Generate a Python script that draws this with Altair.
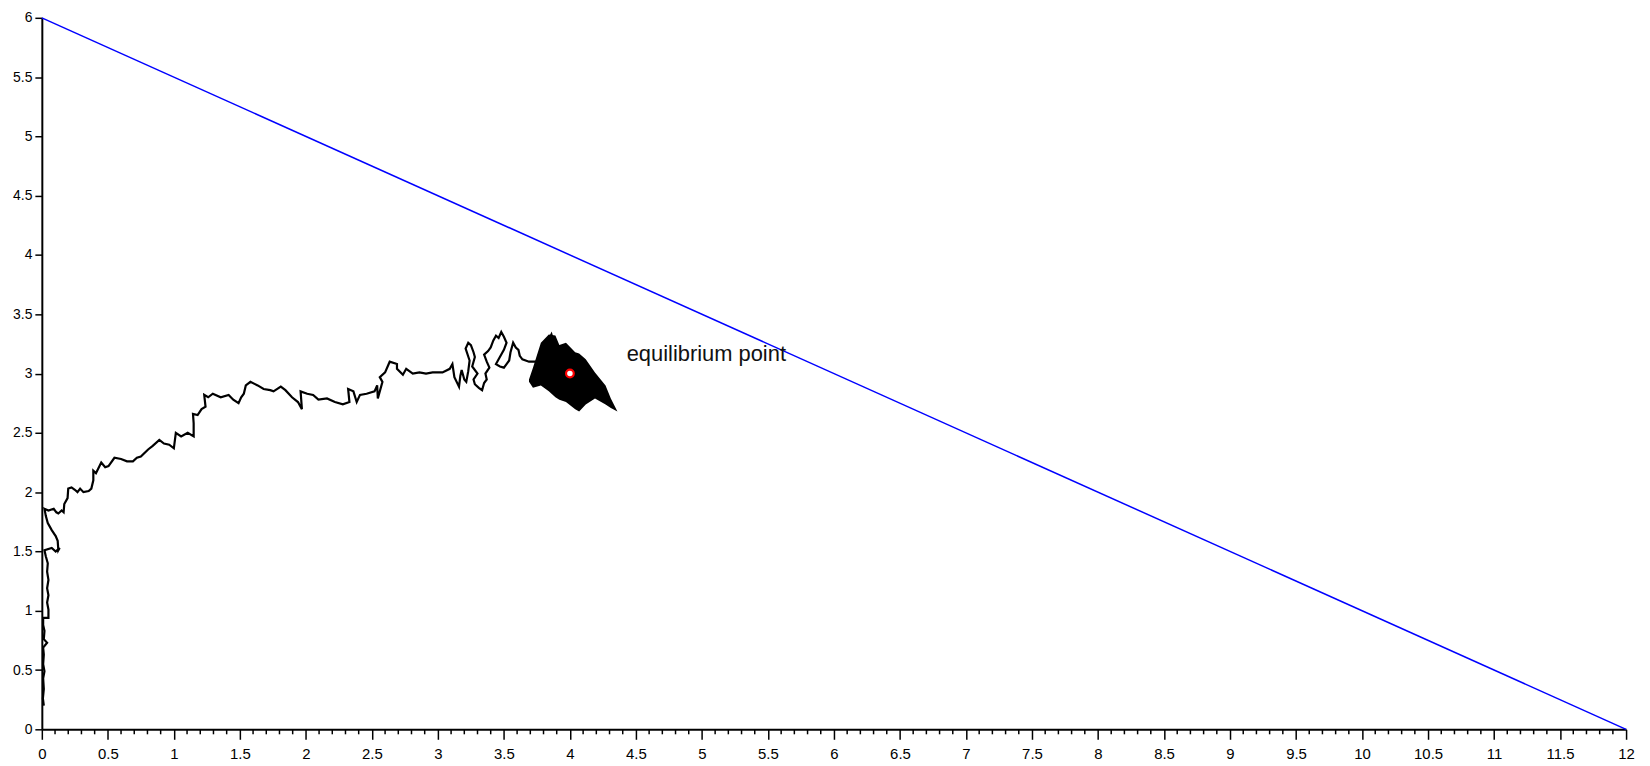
import altair as alt
import pandas as pd

# Boundary line x + 2y = 12
line_x = [0, 12]
line_y = [6, 0]

# Trajectory, in order
trail_x = [0.015, 0.008, 0.015, 0.01, 0.02, 0.01, 0.015, 0.01, 0.04, 0.015, 0.02, 0.01, 0.01, 0.05,
           0.05, 0.04, 0.05, 0.04, 0.05, 0.04, 0.045, 0.03, 0.02, 0.075, 0.105, 0.135, 0.125, 0.12,
           0.105, 0.075, 0.045, 0.03, 0.02, 0.05, 0.09, 0.11, 0.125, 0.15, 0.165, 0.17, 0.195, 0.2,
           0.225, 0.25, 0.27, 0.29, 0.315, 0.355, 0.375, 0.39, 0.39, 0.41, 0.45, 0.48, 0.505, 0.55,
           0.60, 0.645, 0.69, 0.72, 0.75, 0.805, 0.84, 0.89, 0.925, 0.965, 1.0, 1.015, 1.055, 1.105,
           1.15, 1.15, 1.145, 1.18, 1.21, 1.24, 1.23, 1.26, 1.295, 1.355, 1.415, 1.45, 1.49, 1.51,
           1.53, 1.545, 1.58, 1.635, 1.68, 1.73, 1.755, 1.81, 1.845, 1.895, 1.94, 1.97, 1.96, 2.01,
           2.055, 2.095, 2.16, 2.22, 2.28, 2.33, 2.32, 2.36, 2.385, 2.41, 2.46, 2.52, 2.54, 2.545,
           2.58, 2.56, 2.60, 2.635, 2.69, 2.69, 2.735, 2.76, 2.81, 2.86, 2.91, 2.96, 3.035, 3.09,
           3.11, 3.125, 3.16, 3.17, 3.18, 3.20, 3.215, 3.23, 3.24, 3.21, 3.23, 3.25, 3.27, 3.28,
           3.26, 3.30, 3.27, 3.28, 3.31, 3.335, 3.35, 3.37, 3.36, 3.39, 3.37, 3.35, 3.38, 3.40,
           3.42, 3.44, 3.46, 3.48, 3.50, 3.52, 3.50, 3.48, 3.46, 3.44, 3.47, 3.50, 3.52, 3.54,
           3.55, 3.57, 3.59, 3.61, 3.62, 3.64, 3.69, 3.765, 3.81, 3.86, 3.92, 4.0]
trail_y = [0.20, 0.26, 0.34, 0.43, 0.49, 0.55, 0.63, 0.69, 0.73, 0.76, 0.83, 0.88, 0.94, 0.94,
           1.01, 1.07, 1.13, 1.19, 1.26, 1.33, 1.40, 1.46, 1.51, 1.53, 1.50, 1.53, 1.51, 1.59,
           1.63, 1.68, 1.74, 1.80, 1.86, 1.845, 1.86, 1.83, 1.82, 1.845, 1.83, 1.90, 1.95, 2.03,
           2.04, 2.02, 2.00, 2.03, 2.00, 2.01, 2.03, 2.10, 2.18, 2.16, 2.25, 2.21, 2.22, 2.29,
           2.28, 2.26, 2.26, 2.29, 2.30, 2.36, 2.39, 2.44, 2.41, 2.40, 2.37, 2.50, 2.47, 2.50,
           2.47, 2.58, 2.66, 2.65, 2.70, 2.72, 2.82, 2.80, 2.83, 2.80, 2.82, 2.78, 2.75, 2.80,
           2.83, 2.90, 2.93, 2.90, 2.87, 2.86, 2.85, 2.89, 2.86, 2.80, 2.76, 2.70, 2.85, 2.83,
           2.82, 2.78, 2.79, 2.76, 2.74, 2.76, 2.87, 2.85, 2.76, 2.82, 2.83, 2.85, 2.90, 2.79,
           2.93, 2.97, 3.01, 3.10, 3.08, 3.04, 2.99, 3.04, 3.00, 3.01, 3.00, 3.01, 3.01, 3.04,
           3.08, 2.97, 2.89, 2.98, 3.03, 2.95, 2.93, 3.02, 3.11, 3.21, 3.26, 3.24, 3.18, 3.14,
           3.06, 3.00, 2.95, 2.91, 2.88, 2.86, 2.92, 2.95, 3.00, 3.05, 3.10, 3.16, 3.19, 3.22,
           3.28, 3.32, 3.30, 3.35, 3.31, 3.26, 3.20, 3.16, 3.12, 3.08, 3.06, 3.05, 3.08, 3.11,
           3.18, 3.26, 3.22, 3.20, 3.15, 3.12, 3.10, 3.10, 3.22, 3.33, 3.10, 3.0]

# Dense cloud around the equilibrium (upper / lower envelope)
cloud_x = [3.69, 3.72, 3.78, 3.84, 3.89, 3.92, 3.97, 4.04, 4.07, 4.12, 4.19, 4.27, 4.31, 4.36]
cloud_top = [2.95, 3.05, 3.26, 3.33, 3.32, 3.24, 3.26, 3.18, 3.17, 3.12, 3.01, 2.90, 2.79, 2.68]
cloud_bottom = [2.93, 2.88, 2.90, 2.85, 2.80, 2.78, 2.76, 2.70, 2.68, 2.74, 2.79, 2.74, 2.71, 2.68]

# Equilibrium point and label
eq_x = [4.0]
eq_y = [3.0]
label_x = [4.43]
label_y = [3.105]
label_text = ["equilibrium point"]

# Axis ticks
x_major = [i * 0.5 for i in range(25)]
x_minor = [round(i * 0.1, 1) for i in range(121) if i % 5]
y_major = [i * 0.5 for i in range(13)]

W, H = 1592, 715
FONT = "Liberation Sans"

xscale = alt.Scale(domain=[0, 12], nice=False, zero=False, padding=0)
yscale = alt.Scale(domain=[0, 6], nice=False, zero=False, padding=0)
xaxis = alt.Axis(values=x_major, format="~g", title=None, grid=False, tickSize=10,
                 labelPadding=7, labelFlush=False, labelOverlap=False, labelFontSize=15)
yaxis = alt.Axis(values=y_major, format="~g", title=None, grid=False, tickSize=7,
                 labelPadding=3, labelFlush=False, labelOverlap=False, labelFontSize=14)


def X(f):
    return alt.X(f, type="quantitative", scale=xscale, axis=xaxis)


def Y(f):
    return alt.Y(f, type="quantitative", scale=yscale, axis=yaxis)


line_df = pd.DataFrame({"x": line_x, "y": line_y})
trail_df = pd.DataFrame({"x": trail_x, "y": trail_y, "i": list(range(len(trail_x)))})
cloud_df = pd.DataFrame({"x": cloud_x, "top": cloud_top, "bottom": cloud_bottom})
eq_df = pd.DataFrame({"x": eq_x, "y": eq_y})
lab_df = pd.DataFrame({"x": label_x, "y": label_y, "t": label_text})
minor_df = pd.DataFrame({"x": x_minor})

blue = alt.Chart(line_df).mark_line(color="#0000ff", strokeWidth=1.5).encode(
    x=X("x"), y=Y("y"))

trail = alt.Chart(trail_df).mark_line(color="black", strokeWidth=2.2).encode(
    x=X("x"), y=Y("y"), order="i:Q")

cloud = alt.Chart(cloud_df).mark_area(color="black", opacity=1).encode(
    x=X("x"), y=Y("top"), y2="bottom")

minor = alt.Chart(minor_df).mark_rule(color="black", strokeWidth=1.5).encode(
    x=X("x"), y=alt.value(H), y2=alt.value(H + 5))

eq = alt.Chart(eq_df).mark_point(shape="circle", filled=True, fill="white", stroke="red",
                                 strokeWidth=2.2, size=60, opacity=1).encode(
    x=X("x"), y=Y("y"))

label = alt.Chart(lab_df).mark_text(align="left", baseline="alphabetic", font=FONT,
                                    fontSize=22, color="#111111").encode(
    x=X("x"), y=Y("y"), text="t:N")

chart = alt.layer(blue, trail, cloud, minor, eq, label).properties(
    width=W, height=H,
    autosize=alt.AutoSizeParams(type="none"),
    padding={"left": 34, "top": 8, "right": 16, "bottom": 35},
).configure_view(stroke=None).configure_axis(
    domainColor="black", domainWidth=2, tickColor="black", tickWidth=1.5,
    labelFont=FONT, labelColor="black",
)

chart.save("out.html", embed_options={"renderer": "svg", "actions": False})
